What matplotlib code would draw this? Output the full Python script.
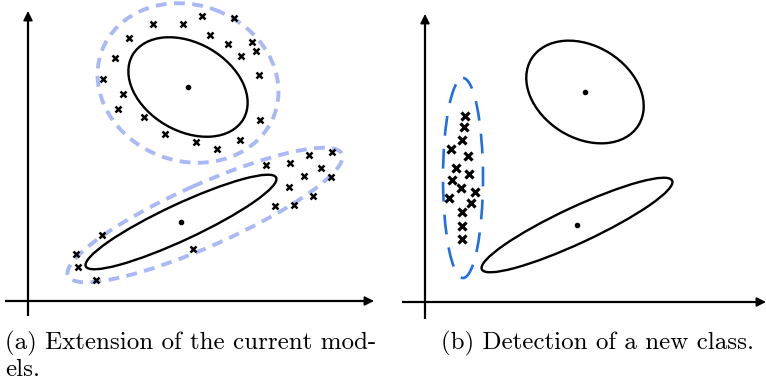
import matplotlib.pyplot as plt
from matplotlib.patches import Ellipse

# pixel-like coordinates, origin top-left of each panel, y grows downward

# (a) extension of the current models
a_top_x = [153, 183, 202, 234, 129, 210, 228, 252, 256, 241, 115, 103, 259,
           123, 118, 144, 260, 165, 196, 217, 240]
a_top_y = [24, 24, 16, 18, 38, 35, 44, 42, 51, 56, 58, 79, 75,
           94, 109, 117, 120, 134, 142, 149, 140]
a_bot_x = [266, 290, 309, 332, 321, 304, 331, 289, 313, 275, 294,
           102, 193, 76, 78, 96]
a_bot_y = [165, 163, 155, 152, 168, 176, 177, 187, 196, 206, 205,
           235, 249, 254, 267, 280]

# (b) detection of a new class (x relative to the panel's left edge)
b_new_x = [82, 81, 79, 68, 85, 73, 86, 69, 78, 92, 66, 88, 79, 79, 79]
b_new_y = [116, 127, 140, 149, 156, 168, 174, 180, 188, 192, 198, 203, 212, 226, 239]

# model ellipses: centre x, centre y, width, height, angle
a_models = [(188, 87, 128, 88, 30), (181, 222, 210, 36, -25)]
a_extended = [(188, 83, 184, 156, 20), (205, 215, 300, 62, -24)]
b_models = [(202, 92, 126, 92, 32), (194, 225, 210, 36, -25)]
b_new = (80, 178, 40, 200, 0)

caption_a = ["(a) Extension of the current mod-", "els."]
caption_b = "(b) Detection of a new class."


def setup_panel(ax, x_axis):
    x0, x1, y_ax, y_axis_x, y_top, y_bot = x_axis
    ax.set_xlim(0, 383)
    ax.set_ylim(387, 0)
    ax.axis("off")
    ax.plot([y_axis_x, y_axis_x], [y_bot, y_top + 8], color="black", lw=1.6,
            solid_capstyle="butt")
    ax.plot([x0, x1 - 8], [y_ax, y_ax], color="black", lw=1.6,
            solid_capstyle="butt")
    ax.annotate("", xy=(y_axis_x, y_top), xytext=(y_axis_x, y_top + 10),
                arrowprops=dict(arrowstyle="-|>", color="black", lw=1.2,
                                mutation_scale=14, shrinkA=0, shrinkB=0))
    ax.annotate("", xy=(x1, y_ax), xytext=(x1 - 10, y_ax),
                arrowprops=dict(arrowstyle="-|>", color="black", lw=1.2,
                                mutation_scale=14, shrinkA=0, shrinkB=0))


def draw_ellipse(ax, e, **kw):
    cx, cy, w, h, ang = e
    ax.add_patch(Ellipse((cx, cy), w, h, angle=ang, fill=False, **kw))


fig = plt.figure(figsize=(7.66, 3.87), dpi=100)
ax_a = fig.add_axes([0, 0, 0.5, 1])
ax_b = fig.add_axes([0.5, 0, 0.5, 1])

# panel a
setup_panel(ax_a, (5, 374, 301, 28, 11, 316))
for e in a_extended:
    draw_ellipse(ax_a, e, edgecolor="#a9b9f6", lw=2.8,
                 linestyle=(0, (2.8, 1.9)))
for e in a_models:
    draw_ellipse(ax_a, e, edgecolor="black", lw=1.7)
    ax_a.plot(e[0], e[1], "o", color="black", ms=3)
ax_a.plot(a_top_x + a_bot_x, a_top_y + a_bot_y, "x", color="black",
          ms=5, mew=1.8, ls="none")

# panel b
setup_panel(ax_b, (19, 383, 302, 42, 14, 319))
draw_ellipse(ax_b, b_new, edgecolor="#1f6fe5", lw=1.9,
             linestyle=(2, (7.5, 5.0)))
for e in b_models:
    draw_ellipse(ax_b, e, edgecolor="black", lw=1.7)
    ax_b.plot(e[0], e[1], "o", color="black", ms=3)
ax_b.plot(b_new_x, b_new_y, "x", color="black", ms=6, mew=2.3, ls="none")

# captions
fig.text(5 / 766, 1 - 343 / 387, caption_a[0], family="cmr10", fontsize=18,
         va="center", ha="left")
fig.text(5 / 766, 1 - 370 / 387, caption_a[1], family="cmr10", fontsize=18,
         va="center", ha="left")
fig.text(441 / 766, 1 - 343 / 387, caption_b, family="cmr10", fontsize=18,
         va="center", ha="left")

fig.savefig("out.png", dpi=100)
